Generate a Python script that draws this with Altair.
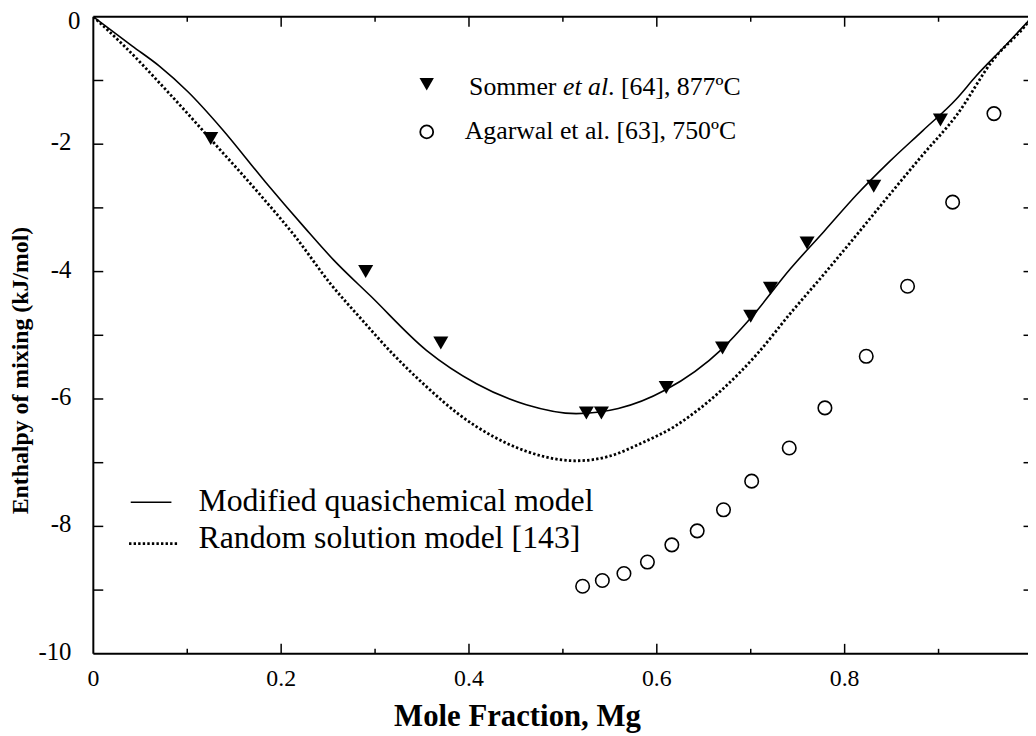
import altair as alt
import pandas as pd

# ---------------- data ----------------
mqm_x = [0, 0.0415, 0.070, 0.101, 0.137, 0.183, 0.225, 0.256, 0.295, 0.355, 0.408,
         0.461, 0.514, 0.559, 0.609, 0.669, 0.700, 0.742, 0.778, 0.813, 0.848, 0.883,
         0.919, 0.940, 0.970, 1.0]
mqm_y = [0, -0.46, -0.77, -1.18, -1.76, -2.59, -3.31, -3.82, -4.38, -5.24, -5.76,
         -6.09, -6.23, -6.15, -5.86, -5.22, -4.73, -3.96, -3.37, -2.79, -2.27, -1.79,
         -1.29, -0.93, -0.47, 0]

rsm_x = [0, 0.033, 0.080, 0.126, 0.175, 0.215, 0.253, 0.285, 0.320, 0.355, 0.390,
         0.426, 0.461, 0.496, 0.514, 0.549, 0.584, 0.619, 0.644, 0.669, 0.707, 0.742,
         0.778, 0.813, 0.848, 0.883, 0.919, 0.959, 0.990, 1.0]
rsm_y = [0, -0.46, -1.19, -1.94, -2.75, -3.45, -4.20, -4.74, -5.31, -5.81, -6.25,
         -6.59, -6.82, -6.95, -6.97, -6.90, -6.69, -6.43, -6.17, -5.86, -5.29, -4.66,
         -4.04, -3.42, -2.79, -2.17, -1.55, -0.66, -0.18, 0]

sommer_x = [0.125, 0.290, 0.370, 0.525, 0.541, 0.610, 0.670, 0.700, 0.721, 0.760, 0.831, 0.902]
sommer_y = [-1.91, -4.00, -5.12, -6.22, -6.22, -5.82, -5.20, -4.70, -4.26, -3.55, -2.66, -1.62]

agarwal_x = [0.521, 0.542, 0.565, 0.590, 0.616, 0.643, 0.671, 0.701, 0.741, 0.779,
             0.823, 0.867, 0.915, 0.959]
agarwal_y = [-8.94, -8.85, -8.74, -8.56, -8.29, -8.07, -7.74, -7.29, -6.77, -6.14,
             -5.33, -4.23, -2.91, -1.52]

x_label_values = [0, 0.2, 0.4, 0.6, 0.8]
x_label_text = ["0", "0.2", "0.4", "0.6", "0.8"]
y_label_values = [-2, -4, -6, -8, -10]
y_label_text = ["-2", "-4", "-6", "-8", "-10"]
y_top_label = "0"
x_major_ticks = [0.2, 0.4, 0.6, 0.8]
x_minor_ticks = [0.1, 0.3, 0.5, 0.7, 0.9]
y_ticks = [-1, -2, -3, -4, -5, -6, -7, -8, -9]

x_title = "Mole Fraction, Mg"
y_title = "Enthalpy of mixing (kJ/mol)"
legend_sommer = ["Sommer ", "et al", ". [64], 877\u00baC"]
legend_agarwal = "Agarwal et al. [63], 750\u00baC"
legend_mqm = "Modified quasichemical model"
legend_rsm = "Random solution model [143]"

# ---------------- layout / style ----------------
FONT = "Liberation Serif"
W = 942          # visible plot width (figure is cropped at the right)
FULL_W = 946.5   # width of the full 0..1 axis
H = 642

xs = alt.Scale(domain=[0, 1], range=[0, FULL_W], nice=False, zero=False)
ys = alt.Scale(domain=[-10, 0], nice=False, zero=False)

X_AXIS = alt.Axis(labels=False, ticks=False, domain=False, grid=False,
                  title=x_title, titleFont=FONT, titleFontSize=31,
                  titleFontWeight="bold", titleColor="black", titleX=427, titleY=72,
                  titleAlign="center", titleBaseline="alphabetic")
Y_AXIS = alt.Axis(labels=False, ticks=False, domain=False, grid=False,
                  title=y_title, titleFont=FONT, titleFontSize=24, titleFontWeight="bold",
                  titleColor="black", titleX=-66, titleY=356, titleAngle=270,
                  titleAlign="center", titleBaseline="alphabetic")


def xenc(field):
    return alt.X(field, type="quantitative", scale=xs, axis=X_AXIS)


def yenc(field):
    return alt.Y(field, type="quantitative", scale=ys, axis=Y_AXIS)


mqm_df = pd.DataFrame({"x": mqm_x, "y": mqm_y})
rsm_df = pd.DataFrame({"x": rsm_x, "y": rsm_y})
som_df = pd.DataFrame({"x": sommer_x, "y": sommer_y})
aga_df = pd.DataFrame({"x": agarwal_x, "y": agarwal_y})
one = pd.DataFrame({"a": [0]})

mqm = alt.Chart(mqm_df).mark_line(color="black", strokeWidth=1.6, interpolate="monotone",
                                  clip=True).encode(x=xenc("x"), y=yenc("y"))
rsm = alt.Chart(rsm_df).mark_line(color="black", strokeWidth=2.8, strokeDash=[2.4, 2.2],
                                  interpolate="monotone", clip=True).encode(x=xenc("x"), y=yenc("y"))
som = alt.Chart(som_df).mark_point(shape="triangle-down", filled=True, color="black", size=230,
                                   opacity=1, clip=True).encode(x=xenc("x"), y=yenc("y"))
aga = alt.Chart(aga_df).mark_point(shape="circle", filled=False, color="black", size=185,
                                   strokeWidth=1.6, opacity=1, clip=True).encode(x=xenc("x"), y=yenc("y"))

# frame
frame_left = alt.Chart(one).mark_rule(color="black", strokeWidth=2).encode(
    x=alt.value(0), y=alt.value(0), y2=alt.value(H))
frame_top = alt.Chart(one).mark_rule(color="black", strokeWidth=2).encode(
    y=alt.value(0), x=alt.value(0), x2=alt.value(W))
frame_bottom = alt.Chart(one).mark_rule(color="black", strokeWidth=2).encode(
    y=alt.value(H), x=alt.value(0), x2=alt.value(W))

# inward ticks
maj_df = pd.DataFrame({"t": x_major_ticks})
min_df = pd.DataFrame({"t": x_minor_ticks})
yt_df = pd.DataFrame({"t": y_ticks})
tick_style = dict(color="black", strokeWidth=1.5)
xb_maj = alt.Chart(maj_df).mark_rule(**tick_style).encode(x=xenc("t"), y=alt.value(H), y2=alt.value(H - 10))
xb_min = alt.Chart(min_df).mark_rule(**tick_style).encode(x=xenc("t"), y=alt.value(H), y2=alt.value(H - 5))
xt_maj = alt.Chart(maj_df).mark_rule(**tick_style).encode(x=xenc("t"), y=alt.value(0), y2=alt.value(10))
xt_min = alt.Chart(min_df).mark_rule(**tick_style).encode(x=xenc("t"), y=alt.value(0), y2=alt.value(5))
yl = alt.Chart(yt_df).mark_rule(**tick_style).encode(y=yenc("t"), x=alt.value(0), x2=alt.value(10))
yr = alt.Chart(yt_df).mark_rule(**tick_style).encode(y=yenc("t"), x=alt.value(FULL_W - 9), x2=alt.value(FULL_W))

# tick labels (drawn through the scales)
xl_df = pd.DataFrame({"v": x_label_values, "s": x_label_text})
yl_df = pd.DataFrame({"v": y_label_values, "s": y_label_text})
x_labels = alt.Chart(xl_df).mark_text(align="center", baseline="alphabetic", font=FONT,
                                      fontSize=24, color="black").encode(
    x=xenc("v"), y=alt.value(H + 32), text="s:N")
y_labels = alt.Chart(yl_df).mark_text(align="right", baseline="middle", font=FONT,
                                      fontSize=25, color="black", dy=-2).encode(
    y=yenc("v"), x=alt.value(-22), text="s:N")
y_label0 = alt.Chart(one).mark_text(align="right", baseline="middle", font=FONT,
                                    fontSize=25, color="black").encode(
    x=alt.value(-13), y=alt.value(4), text=alt.value(y_top_label))

# legends
def txt(s, x, y, size, style="normal"):
    return alt.Chart(one).mark_text(align="left", baseline="alphabetic", font=FONT, fontSize=size,
                                    fontStyle=style, color="black").encode(
        x=alt.value(x), y=alt.value(y), text=alt.value(s))

leg_tri = alt.Chart(one).mark_point(shape="triangle-down", filled=True, color="black", size=210,
                                    opacity=1).encode(x=alt.value(336), y=alt.value(68))
leg_circ = alt.Chart(one).mark_point(shape="circle", filled=False, color="black", size=170,
                                     strokeWidth=1.8, opacity=1).encode(x=alt.value(336), y=alt.value(116))
leg_s1 = txt(legend_sommer[0], 378.7, 78.7, 26)
leg_s2 = txt(legend_sommer[1], 473.3, 78.7, 26, "italic")
leg_s3 = txt(legend_sommer[2], 518.8, 78.7, 26)
leg_a = txt(legend_agarwal, 374.3, 123.3, 26)

leg_line1 = alt.Chart(one).mark_rule(color="black", strokeWidth=1.6).encode(
    x=alt.value(37.7), x2=alt.value(78.7), y=alt.value(489.3))
leg_line2 = alt.Chart(one).mark_rule(color="black", strokeWidth=2.8, strokeDash=[2.4, 2.2]).encode(
    x=alt.value(36), x2=alt.value(86), y=alt.value(531))
leg_t1 = txt(legend_mqm, 106, 497.7, 32)
leg_t2 = txt(legend_rsm, 106, 535.3, 32)

chart = alt.layer(
    mqm, rsm, som, aga,
    frame_left, frame_top, frame_bottom,
    xb_maj, xb_min, xt_maj, xt_min, yl, yr,
    x_labels, y_labels, y_label0,
    leg_tri, leg_circ, leg_s1, leg_s2, leg_s3, leg_a,
    leg_line1, leg_line2, leg_t1, leg_t2,
).properties(
    width=W, height=H,
    autosize=alt.AutoSizeParams(type="none"),
    padding={"left": 86, "top": 6, "right": 0, "bottom": 80},
    background="white",
).configure_view(strokeWidth=0).configure_axis(titleFont=FONT, titleColor="black")

chart.save("out.html", embed_options={"renderer": "svg", "actions": False})
